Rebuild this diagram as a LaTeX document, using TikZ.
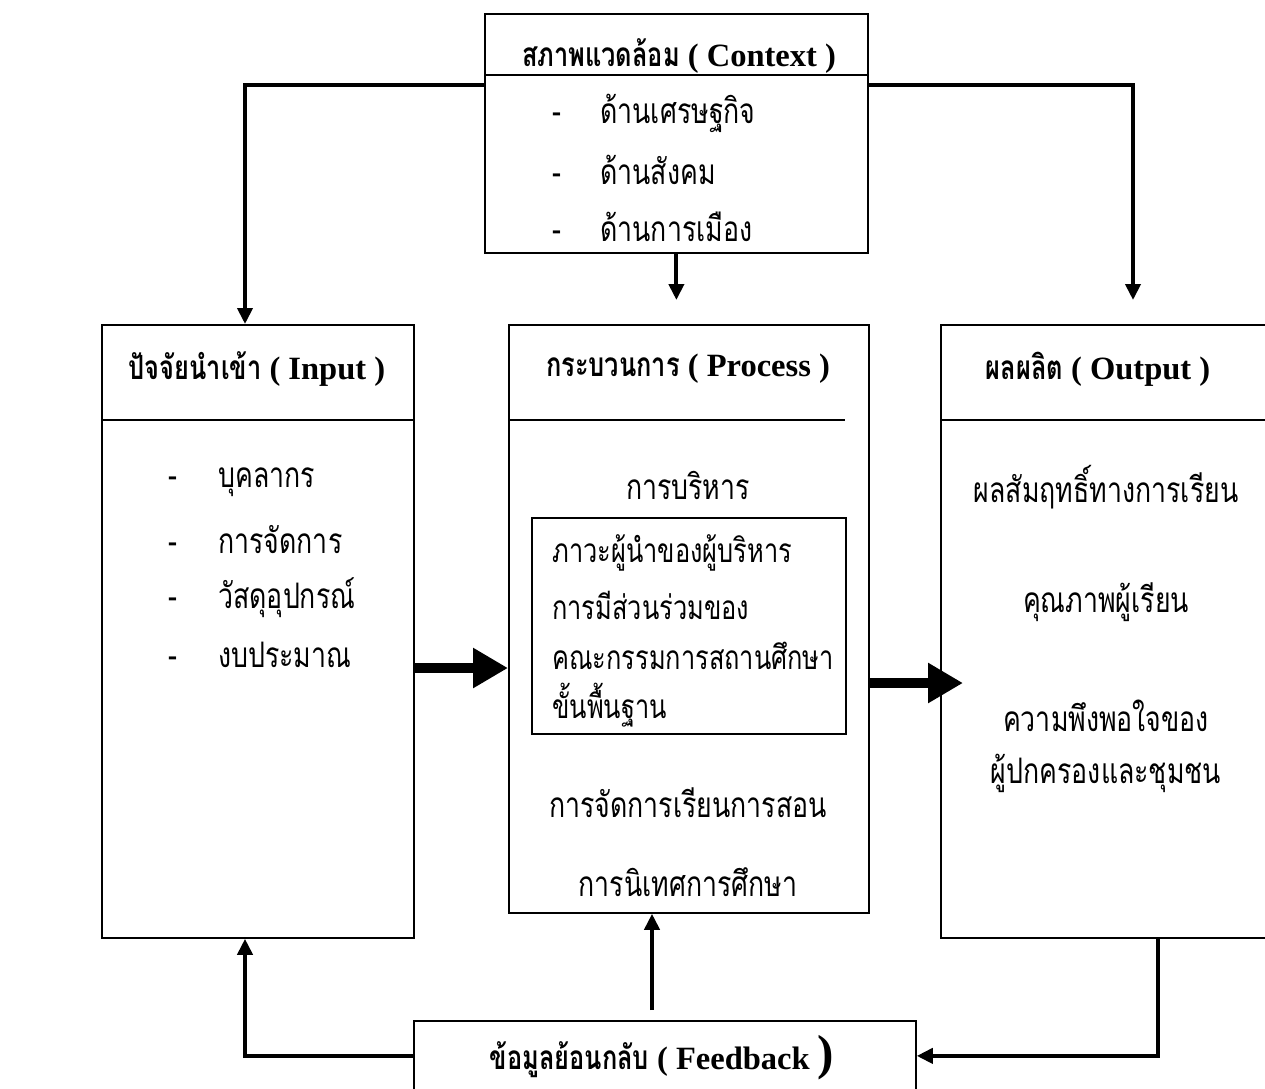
\documentclass[tikz,border=0pt]{standalone}
\usepackage{fontspec}
\setmainfont{Liberation Serif}
\newfontfamily\thai[Script=Thai,FakeStretch=0.76]{Loma}
\usetikzlibrary{arrows.meta}

\begin{document}
\begin{tikzpicture}[x=0.2mm,y=-0.2mm,
    box/.style={draw,line width=1pt,inner sep=0pt,anchor=north west},
    rule/.style={line width=1pt},
    head/.style={font=\fontsize{18.5}{22}\selectfont\bfseries},
    item/.style={anchor=west,inner sep=0pt,font=\thai\fontsize{20}{24}\selectfont},
    ctext/.style={inner sep=0pt,font=\thai\fontsize{20}{24}\selectfont},
    link/.style={line width=2.2pt,-{Triangle[length=3.2mm,width=3mm]}},
    fat/.style={line width=2mm,-{Triangle[length=7mm,width=7.6mm]}}]
    \useasboundingbox (0,0) rectangle (1265,1088);

    % boxes
    \node[box,minimum width=76.6mm,minimum height=47.8mm] (ctx) at (484,13) {};
    \node[box,minimum width=62.4mm,minimum height=122.6mm] (input) at (101,324) {};
    \node[box,minimum width=72mm,minimum height=117.6mm] (process) at (508,324) {};
    \node[box,minimum width=66mm,minimum height=122.6mm] (output) at (940,324) {};
    \node[box,minimum width=62.8mm,minimum height=43.2mm] (inner) at (531,517) {};
    \node[box,minimum width=100.4mm,minimum height=14mm] (fb) at (413,1020) {};

    \draw[rule] (484,75) -- (869,75);
    \draw[rule] (101,420) -- (413,420);
    \draw[rule] (508,420) -- (845,420);
    \draw[rule] (940,420) -- (1265,420);

    % titles
    \node[head] (tctx) at (679,56) {{\thai\fontsize{19}{22}\selectfont สภาพแวดล้อม} ( Context )};
    \node[head] (tin) at (257,369) {{\thai\fontsize{19}{22}\selectfont ปัจจัยนำเข้า} ( Input )};
    \node[head] (tpro) at (688,369) {{\thai\fontsize{19}{22}\selectfont กระบวนการ} ( Process )};
    \node[head] (tout) at (1098,369) {{\thai\fontsize{19}{22}\selectfont ผลผลิต} ( Output )};
    \node[head] (tfb) at (662,1058) {{\thai\fontsize{19}{22}\selectfont ข้อมูลย้อนกลับ} ( Feedback {\fontsize{28}{28}\selectfont)}};

    % context
    \node[item] (c1) at (552,113) {\makebox[9.6mm][l]{-}ด้านเศรษฐกิจ};
    \node[item] (c2) at (552,170) {\makebox[9.6mm][l]{-}ด้านสังคม};
    \node[item] (c3) at (552,227) {\makebox[9.6mm][l]{-}ด้านการเมือง};

    % input
    \node[item] (i1) at (168,482) {\makebox[10mm][l]{-}บุคลากร};
    \node[item] (i2) at (168,540) {\makebox[10mm][l]{-}การจัดการ};
    \node[item] (i3) at (168,598) {\makebox[10mm][l]{-}วัสดุอุปกรณ์};
    \node[item] (i4) at (168,655) {\makebox[10mm][l]{-}งบประมาณ};

    % process
    \node[ctext] (p0) at (688,485) {การบริหาร};
    \node[item,font=\thai\fontsize{19}{23}\selectfont] (p1) at (552,553) {ภาวะผู้นำของผู้บริหาร};
    \node[item,font=\thai\fontsize{19}{23}\selectfont] (p2) at (552,605) {การมีส่วนร่วมของ};
    \node[item,font=\thai\fontsize{19}{23}\selectfont] (p3) at (552,656) {คณะกรรมการสถานศึกษา};
    \node[item,font=\thai\fontsize{19}{23}\selectfont] (p4) at (552,705) {ขั้นพื้นฐาน};
    \node[ctext] (p5) at (688,803) {การจัดการเรียนการสอน};
    \node[ctext] (p6) at (688,882) {การนิเทศการศึกษา};

    % output
    \node[ctext] (o1) at (1106,487) {ผลสัมฤทธิ์ทางการเรียน};
    \node[ctext] (o2) at (1106,602) {คุณภาพผู้เรียน};
    \node[ctext] (o3) at (1106,716) {ความพึงพอใจของ};
    \node[ctext] (o4) at (1106,773) {ผู้ปกครองและชุมชน};

    % arrows
    \coordinate (r1) at (0,85);
    \coordinate (r2) at (0,668);
    \coordinate (r3) at (0,683);
    \coordinate (tipout) at (963,683);
    \coordinate (lx) at (245,0);
    \coordinate (rx) at (1133,0);
    \coordinate (top) at (0,300);
    \coordinate (fbup) at (652,1010);
    \coordinate (dx) at (1158,0);

    \draw[link] (ctx.west |- r1) -| (input.north -| lx);
    \draw[link] (ctx.east |- r1) -| (rx |- top);
    \draw[link] (ctx.south) -- (ctx.south |- top);
    \draw[fat] (input.east |- r2) -- (process.west |- r2);
    \draw[fat] (process.east |- r3) -- (tipout);
    \draw[link] (fb.west) -| (input.south -| lx);
    \draw[link] (fbup) -- (fbup |- process.south);
    \draw[link] (output.south -| dx) |- (fb.east);
\end{tikzpicture}
\end{document}
